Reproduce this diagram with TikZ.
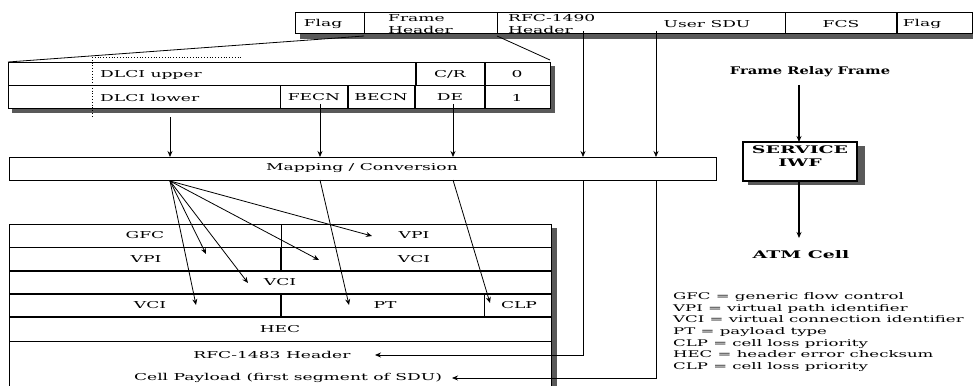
\documentclass[tikz,border=0pt]{standalone}
\usepackage{fontspec}
\setmainfont{DejaVu Serif}[FakeStretch=1.8]
\newfontfamily\frfont{DejaVu Serif}[FakeStretch=1.4]
\usetikzlibrary{arrows.meta}
\definecolor{shadowc}{gray}{0.35}
\begin{document}
\begin{tikzpicture}[x=1pt,y=-1pt,
  font=\fontsize{9.5}{12}\selectfont,
  box/.style={draw,line width=1pt},
  thk/.style={line width=2pt},
  conn/.style={line width=0.8pt},
  arr/.style={conn,-{Stealth[length=6pt,width=5pt]}},
  lbl/.style={inner sep=0pt,anchor=center},
  lbll/.style={inner sep=0pt,anchor=west},
  bold/.style={inner sep=0pt,font=\fontsize{10.5}{13}\selectfont\bfseries,align=center}]
\useasboundingbox (0,0) rectangle (973,385);
% ---------- top frame ----------
\fill[shadowc] (300,34) rectangle (975,39);
\draw[box,fill=white] (295,13) rectangle (972,34);
\draw[box] (364,13) -- (364,34);
\draw[box] (497,13) -- (497,34);
\draw[box] (785,13) -- (785,34);
\draw[box,thk] (897,13) -- (897,34);
\node[lbl] (fflag) at (323,24) {Flag};
\node[lbll,align=left,font=\fontsize{9.5}{12}\selectfont] (fhdr) at (388,24) {Frame\\Header};
\node[lbll,align=left,font=\fontsize{9.5}{12}\selectfont] (rfch) at (508,24) {RFC-1490\\Header};
\node[lbl] (usdu) at (707,24) {User SDU};
\node[lbl] (fcs) at (841,24) {FCS};
\node[lbl] (flag2) at (922,24) {Flag};
\coordinate (rfcdown) at (583,31);
\coordinate (sdudown) at (656,31);
% ---------- DLCI header ----------
\coordinate (fhL) at (364,36);
\coordinate (fhR) at (497,36);
\coordinate (dlL) at (8,62);
\coordinate (dlR) at (550,60);
\draw[conn] (fhL) -- (dlL);
\draw[conn] (fhR) -- (dlR);
\fill[shadowc] (12,109) rectangle (555,113);
\fill[shadowc] (550,66) rectangle (555,113);
\draw[box,fill=white] (8,62.7) rectangle (550,109);
\draw[box] (8,86) -- (550,86);
\draw[box,thk] (416,62.7) -- (416,86);
\draw[box,thk] (485,62.7) -- (485,109);
\draw[box] (280,86) -- (280,109);
\draw[box,thk] (348,86) -- (348,109);
\draw[box,thk] (415,86) -- (415,109);
\draw[conn,dotted] (92,57) -- (242,57);
\draw[conn,dotted] (92,57) -- (92,118);
\node[lbll] (dlup) at (100,74.5) {DLCI upper};
\node[lbll] (dllo) at (100,97.5) {DLCI lower};
\node[lbl] (cr) at (450,74.5) {C/R};
\node[lbl] (zero) at (517,74.5) {0};
\node[lbl] (fecn) at (314,97.5) {FECN};
\node[lbl] (becn) at (381,97.5) {BECN};
\node[lbl] (de) at (450,97.5) {DE};
\node[lbl] (one) at (517,97.5) {1};
% ---------- mapping ----------
\draw[box,fill=white] (9,157) rectangle (716,180);
\node[lbl] (map) at (362,168.5) {Mapping / Conversion};
\coordinate (m1) at (170,157);
\coordinate (m2) at (320,157);
\coordinate (m3) at (453,157);
\coordinate (m4) at (583,157);
\coordinate (m5) at (656,157);
\draw[arr] (170,117) -- (m1);
\draw[arr] (320,104) -- (m2);
\draw[arr] (453,104) -- (m3);
\draw[arr] (rfcdown) -- (m4);
\draw[arr] (sdudown) -- (m5);
% ---------- ATM cell ----------
\fill[shadowc] (552,228) rectangle (557,390);
\draw[box] (9,390) -- (9,224) -- (551,224) -- (551,390);
\draw[box] (9,247) -- (551,247);
\draw[box,line width=1.8pt] (9,271) -- (551,271);
\draw[box,line width=1.8pt] (9,294) -- (551,294);
\draw[box,line width=1.5pt] (9,317) -- (551,317);
\draw[box] (9,341) -- (551,341);
\draw[box] (281,224) -- (281,247);
\draw[box,line width=2.5pt] (281,247) -- (281,271);
\draw[box,line width=1.5pt] (281,294) -- (281,317);
\draw[box] (484,294) -- (484,317);
\node[lbl] (gfc) at (145,235.5) {GFC};
\node[lbl] (vpi1) at (414,235.5) {VPI};
\node[lbl] (vpi2) at (146,259) {VPI};
\node[lbl] (vci1) at (414,259) {VCI};
\node[lbl] (vci2) at (280,282.5) {VCI};
\node[lbl] (vci3) at (150,305.5) {VCI};
\node[lbl] (pt) at (385,305.5) {PT};
\node[lbl] (clp) at (519,305.5) {CLP};
\node[lbl] (hec) at (280,329) {HEC};
\node[lbl] (rfc83) at (272,355) {RFC-1483 Header};
\node[lbl] (payload) at (288,378) {Cell Payload (first segment of SDU)};
% fan arrows
\coordinate (fan) at (170,181);
\draw[arr] (fan) -- (372,236);
\draw[arr] (fan) -- (319,260);
\draw[arr] (fan) -- (206,254);
\draw[arr] (fan) -- (248,283);
\draw[arr] (fan) -- (196,305);
\draw[arr] (320,180) -- (349,305);
\draw[arr] (453,180) -- (490,303);
\draw[arr] (583,180) -- (583,355) -- (375,355);
\draw[arr] (656,180) -- (656,378) -- (452,378);
% ---------- right side ----------
\node[bold,font=\fontsize{10.5}{13}\selectfont\bfseries\frfont] (frf) at (810,72) {Frame Relay Frame};
\fill[shadowc] (748,146) rectangle (865,185);
\draw[box,line width=1.2pt,fill=white] (743,142) rectangle (857,181);
\node[bold,font=\fontsize{10.5}{12.5}\selectfont\bfseries] (iwf) at (800,156) {SERVICE\\IWF};
\node[bold] (atm) at (801,255) {ATM Cell};
\draw[arr,line width=1.6pt] (799,85) -- (799,142);
\draw[arr,line width=1.6pt] (799,181) -- (799,238);
% ---------- legend ----------
\node[lbll,align=left,font=\fontsize{9.2}{11.7}\selectfont] (legend) at (673,332) {GFC = generic flow control\\VPI = virtual path identifier\\VCI = virtual connection identifier\\PT = payload type\\CLP = cell loss priority\\HEC = header error checksum\\CLP = cell loss priority};
\end{tikzpicture}
\end{document}
